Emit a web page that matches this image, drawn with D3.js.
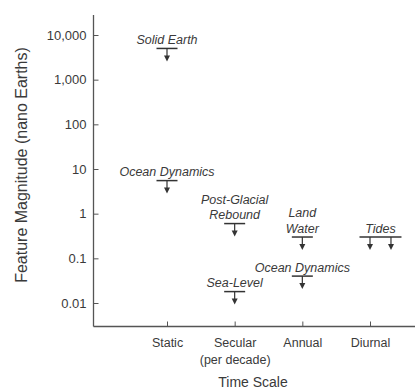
<!DOCTYPE html>
<html>
<head>
<meta charset="utf-8">
<script src="https://cdn.jsdelivr.net/npm/d3@7/dist/d3.min.js"></script>
<style>
  html, body { margin: 0; padding: 0; background: #fff; }
  svg { display: block; }
  text { font-family: "Liberation Sans", Arial, Helvetica, sans-serif; fill: #3a3a3a; }
</style>
</head>
<body>
<svg id="chart" width="417" height="389"></svg>
<script>
// Time-scale categories along the x axis
const categories = ["Static", "Secular", "Annual", "Diurnal"];
const categorySubLabels = ["", "(per decade)", "", ""];

// Magnitude ticks (nano Earths)
const yTicks = [10000, 1000, 100, 10, 1, 0.1, 0.01];
const yTickLabels = ["10,000", "1,000", "100", "10", "1", "0.1", "0.01"];

// Geophysical features: name, time scale, upper-bound magnitude
const featureNames = ["Solid Earth", "Ocean Dynamics", "Post-Glacial\nRebound", "Sea-Level",
                      "Land\nWater", "Ocean Dynamics", "Tides"];
const featureScales = ["Static", "Static", "Secular", "Secular", "Annual", "Annual", "Diurnal"];
const featureValues = [5000, 5.5, 0.6, 0.018, 0.3, 0.04, 0.3];
// arrow positions within a time-scale slot (diurnal and semidiurnal tides)
const featureArrows = [[0], [0], [0], [0], [0], [0], [0, 0.31]];

const svg = d3.select("#chart");
const axisColor = "#555";
const markColor = "#333";
const textColor = "#3e3e3e";

// layout
const axisX = 93.5, axisY = 326.5, axisRight = 415, axisTop = 15;

const y = d3.scaleLog().domain([0.01, 10000]).range([303, 35]);
const x = d3.scaleLinear().domain([0, categories.length - 1]).range([167, 370]);

// y axis: labels on the left, short ticks pointing into the plot
const yAxis = d3.axisLeft(y)
  .tickValues(yTicks)
  .tickFormat((d, i) => yTickLabels[i])
  .tickSizeInner(-5)
  .tickSizeOuter(0)
  .tickPadding(7);

const gy = svg.append("g").attr("transform", `translate(${axisX},0)`).call(yAxis);
gy.select(".domain").remove();
gy.selectAll(".tick line").attr("stroke", axisColor).attr("stroke-width", 1);
gy.selectAll(".tick text").attr("font-size", 13).attr("fill", textColor)
  .attr("font-family", "Liberation Sans, Arial, sans-serif");

// x axis: category labels below, ticks pointing up
const xAxis = d3.axisBottom(x)
  .tickValues(d3.range(categories.length))
  .tickFormat(i => categories[i])
  .tickSizeInner(-5)
  .tickSizeOuter(0)
  .tickPadding(12);

const gx = svg.append("g").attr("transform", `translate(0,${axisY})`).call(xAxis);
gx.select(".domain").remove();
gx.selectAll(".tick line").attr("stroke", axisColor).attr("stroke-width", 1);
gx.selectAll(".tick text").attr("font-size", 12.5).attr("fill", textColor)
  .attr("font-family", "Liberation Sans, Arial, sans-serif");

// second line under a category label
gx.selectAll(".tick").each(function(d, i) {
  if (categorySubLabels[i]) {
    d3.select(this).append("text")
      .attr("y", 37)
      .attr("text-anchor", "middle")
      .attr("font-size", 12.5)
      .attr("fill", textColor)
      .text(categorySubLabels[i]);
  }
});

// axis lines
svg.append("line")
  .attr("x1", axisX).attr("x2", axisX)
  .attr("y1", axisTop).attr("y2", axisY)
  .attr("stroke", axisColor).attr("stroke-width", 1.3);
svg.append("line")
  .attr("x1", axisX).attr("x2", axisRight)
  .attr("y1", axisY).attr("y2", axisY)
  .attr("stroke", axisColor).attr("stroke-width", 1.6);

// axis titles
svg.append("text")
  .attr("transform", `translate(27,165) rotate(-90)`)
  .attr("text-anchor", "middle")
  .attr("font-size", 16)
  .attr("fill", textColor)
  .text("Feature Magnitude (nano Earths)");

svg.append("text")
  .attr("x", 253).attr("y", 387)
  .attr("text-anchor", "middle")
  .attr("font-size", 14)
  .attr("fill", textColor)
  .text("Time Scale");

// feature markers: a bar at the magnitude with downward arrow(s)
const halfBar = 10.5, stemLen = 13, headLen = 6, headHalf = 3;
const features = featureNames.map((name, i) => ({
  name,
  cat: categories.indexOf(featureScales[i]),
  value: featureValues[i],
  arrows: featureArrows[i]
}));

const fg = svg.append("g");
features.forEach(f => {
  const yv = y(f.value);
  const xs = f.arrows.map(o => x(f.cat + o));
  const x0 = d3.min(xs) - halfBar, x1 = d3.max(xs) + halfBar;
  const g = fg.append("g");

  g.append("line")
    .attr("x1", x0).attr("x2", x1)
    .attr("y1", yv).attr("y2", yv)
    .attr("stroke", markColor).attr("stroke-width", 1.5);

  xs.forEach(ax => {
    g.append("line")
      .attr("x1", ax).attr("x2", ax)
      .attr("y1", yv).attr("y2", yv + stemLen - headLen + 1)
      .attr("stroke", markColor).attr("stroke-width", 1.2);
    g.append("path")
      .attr("d", `M${ax - headHalf},${yv + stemLen - headLen} L${ax + headHalf},${yv + stemLen - headLen} L${ax},${yv + stemLen} Z`)
      .attr("fill", markColor);
  });

  const lines = f.name.split("\n");
  const cx = (d3.min(xs) + d3.max(xs)) / 2;
  const t = g.append("text")
    .attr("text-anchor", "middle")
    .attr("font-size", 12.5)
    .attr("font-style", "italic")
    .attr("fill", textColor);
  lines.forEach((ln, j) => {
    t.append("tspan")
      .attr("x", cx)
      .attr("y", yv - 4.5 - (lines.length - 1 - j) * 15.5)
      .text(ln);
  });
});
</script>
</body>
</html>
